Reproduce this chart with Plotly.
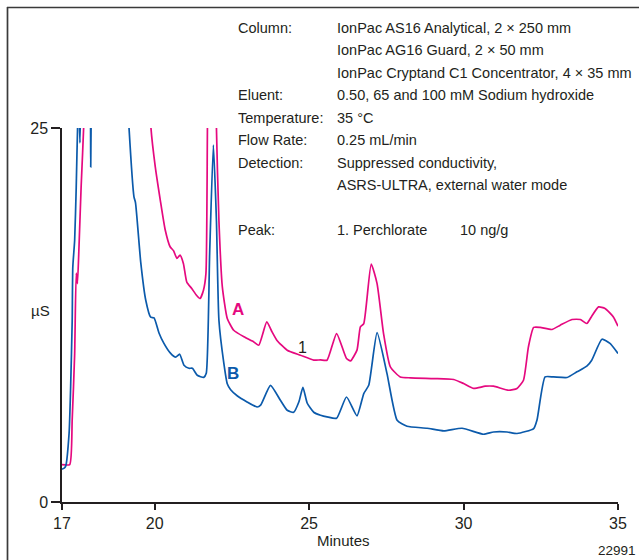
import plotly.graph_objects as go

# Retention time (min) and conductivity (µS) for trace A
time_a = [17.00, 17.25, 17.33, 17.41, 17.46, 17.50, 17.55, 17.62, 17.71, 17.80,
          19.70, 19.88, 20.02, 20.18, 20.34, 20.50, 20.61, 20.72, 20.82, 20.93,
          21.04, 21.20, 21.36, 21.47, 21.58, 21.66, 21.71, 21.80, 21.95, 22.00,
          22.08, 22.19, 22.35, 22.56, 22.89, 23.21, 23.37, 23.63, 23.80, 23.96,
          24.29, 24.72, 25.15, 25.37, 25.58, 25.89, 26.21, 26.34, 26.55, 26.66,
          26.77, 27.01, 27.20, 27.41, 27.63, 27.95, 28.28, 29.03, 29.68, 30.00,
          30.33, 30.70, 30.97, 31.46, 31.73, 31.94, 32.10, 32.27, 32.48, 32.86,
          33.13, 33.51, 33.78, 33.99, 34.15, 34.37, 34.58, 34.85, 35.00]
signal_a = [2.5, 2.5, 5.5, 9.9, 15.3, 14.6, 17.05, 21.1, 25.5, 35,
            35, 25.0, 22.4, 20.2, 18.2, 17.06, 16.8, 16.28, 16.5, 15.95,
            14.7, 14.27, 13.8, 13.6, 14.16, 15.28, 25.5, 40, 40, 25.0,
            18.8, 14.4, 12.27, 11.48, 11.04, 10.7, 10.48, 12.04, 11.37, 10.8,
            10.15, 9.81, 9.48, 9.5, 9.48, 11.26, 9.59, 9.43, 10.15, 11.7,
            11.93, 15.9, 14.6, 11.26, 9.03, 8.36, 8.3, 8.25, 8.19, 7.92,
            7.59, 7.74, 7.74, 7.47, 7.59, 8.14, 10.37, 11.67, 11.67, 11.53,
            11.82, 12.2, 12.2, 11.93, 12.42, 13.04, 12.94, 12.37, 11.75]

# Retention time (min) and conductivity (µS) for trace B
time_b = [17.00, 17.06, 17.12, 17.23, 17.28, 17.33, 17.35, 17.41, 17.46, 17.51,
          17.55, 17.58, 17.61, 17.65, 17.90, 17.93, 17.96, 18.00, 19.00, 19.10,
          19.17, 19.33, 19.38, 19.55, 19.71, 19.87, 19.98, 20.14, 20.30, 20.51,
          20.68, 20.81, 20.95, 21.11, 21.22, 21.38, 21.59, 21.67, 21.78, 21.90,
          22.00, 22.08, 22.24, 22.35, 22.46, 22.67, 22.99, 23.32, 23.43, 23.75,
          24.07, 24.29, 24.50, 24.67, 24.80, 24.94, 25.15, 25.37, 25.58, 25.89,
          26.21, 26.55, 26.77, 26.93, 27.20, 27.52, 27.85, 28.17, 28.82, 29.36,
          29.95, 30.65, 30.97, 31.41, 31.73, 32.27, 32.38, 32.64, 32.91, 33.35,
          33.67, 33.99, 34.15, 34.48, 34.74, 35.00]
signal_b = [2.2, 2.25, 2.4, 4.6, 7.7, 12.1, 15.7, 17.5, 21.0, 25.5,
            27.0, 24.0, 27.0, 35, 30, 22.4, 30, 40, 40, 28,
            25.0, 20.4, 20.0, 16.0, 13.5, 12.35, 12.3, 11.3, 10.6, 9.95,
            9.68, 9.88, 9.14, 8.94, 8.94, 8.47, 8.33, 8.6, 16.6, 23.86,
            18.8, 12.15, 9.26, 7.9, 7.5, 7.1, 6.69, 6.35, 6.47, 7.8,
            6.8, 6.13, 6.0, 6.7, 7.67, 6.6, 6.0, 5.8, 5.69, 5.6,
            7.02, 5.76, 7.25, 7.8, 11.32, 8.6, 5.46, 5.06, 4.93, 4.75,
            4.93, 4.53, 4.68, 4.68, 4.58, 4.91, 5.5, 8.36, 8.36, 8.32,
            8.7, 9.08, 9.48, 10.88, 10.6, 9.93]

x_ticks = [17, 20, 25, 30, 35]
y_ticks = [0, 25]

conditions = [
    ("Column:", "IonPac AS16 Analytical, 2 × 250 mm"),
    ("", "IonPac AG16 Guard, 2 × 50 mm"),
    ("", "IonPac Cryptand C1 Concentrator, 4 × 35 mm"),
    ("Eluent:", "0.50, 65 and 100 mM Sodium hydroxide"),
    ("Temperature:", "35 °C"),
    ("Flow Rate:", "0.25 mL/min"),
    ("Detection:", "Suppressed conductivity,"),
    ("", "ASRS-ULTRA, external water mode"),
]

PINK = "#E5097F"
BLUE = "#0B5AAB"
INK = "#231F20"
FONT = "Liberation Sans, Arial, Helvetica, sans-serif"

W, H = 639, 560
L, R, T, B = 62, 21, 128, 58


def fx(p):
    return (p - L) / (W - L - R)


def fy(p):
    return (H - B - p) / (H - T - B)


fig = go.Figure()
fig.add_trace(go.Scatter(x=time_a, y=signal_a, mode="lines",
                         line=dict(color=PINK, width=1.7, shape="spline", smoothing=0.5),
                         hoverinfo="skip", showlegend=False))
fig.add_trace(go.Scatter(x=time_b, y=signal_b, mode="lines",
                         line=dict(color=BLUE, width=1.7, shape="spline", smoothing=0.5),
                         hoverinfo="skip", showlegend=False))

ann = []


def text(x, y, s, anchor="left", size=14.5, color=INK, bold=False):
    ann.append(dict(x=fx(x), y=fy(y), xref="paper", yref="paper",
                    text=f"<b>{s}</b>" if bold else s, showarrow=False,
                    xanchor=anchor, yanchor="middle",
                    font=dict(family=FONT, size=size, color=color)))


row_y = [28, 50.5, 73, 95, 117.5, 140, 162.5, 185]
for (label, value), yy in zip(conditions, row_y):
    if label:
        text(236, yy, label)
    text(335, yy, value)
text(236, 230, "Peak:")
text(335, 230, "1. Perchlorate")
text(458, 230, "10 ng/g")

text(238, 309, "A", anchor="center", size=17, color=PINK, bold=True)
text(233, 373, "B", anchor="center", size=17, color=BLUE, bold=True)
text(302, 347, "1", anchor="center", size=16)
text(40, 310, "µS", anchor="center", size=15)
text(343, 540, "Minutes", anchor="center", size=15)
text(638, 550, "22991", anchor="right", size=13.5)

shapes = [
    dict(type="line", xref="paper", yref="paper", x0=fx(7.5), x1=fx(7.5),
         y0=fy(7), y1=fy(562), line=dict(color="#3A3A3A", width=1.7)),
    dict(type="line", xref="paper", yref="paper", x0=fx(7), x1=fx(641),
         y0=fy(7.5), y1=fy(7.5), line=dict(color="#3A3A3A", width=1.7)),
]

axis_common = dict(showgrid=False, zeroline=False, showline=True,
                   linecolor=INK, linewidth=1.5, ticks="outside",
                   tickcolor=INK, tickwidth=1.5,
                   tickfont=dict(family=FONT, size=16, color=INK))

fig.update_layout(
    width=W, height=H,
    margin=dict(l=L, r=R, t=T, b=B),
    paper_bgcolor="white", plot_bgcolor="white",
    xaxis=dict(range=[17, 35], tickvals=x_ticks, ticklen=6, **axis_common),
    yaxis=dict(range=[0, 25], tickvals=y_ticks, ticklen=9, **axis_common),
    annotations=ann, shapes=shapes,
)

fig.write_html("out.html")
